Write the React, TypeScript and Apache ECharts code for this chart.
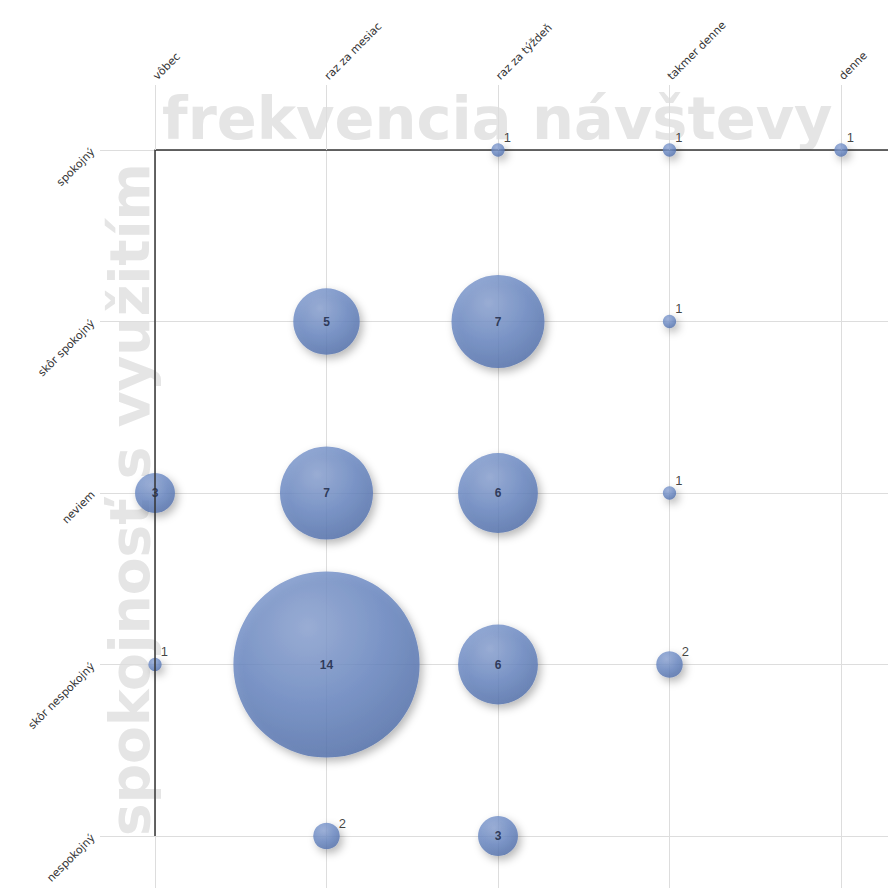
import React, { useEffect, useRef } from "react";
import * as echarts from "echarts";

const xCategories = ["vôbec", "raz za mesiac", "raz za týždeň", "takmer denne", "denne"];
const yCategories = ["spokojný", "skôr spokojný", "neviem", "skôr nespokojný", "nespokojný"];
// rows follow yCategories, columns follow xCategories
const rowSpokojny = [0, 0, 1, 1, 1];
const rowSkorSpokojny = [0, 5, 7, 1, 0];
const rowNeviem = [3, 7, 6, 1, 0];
const rowSkorNespokojny = [1, 14, 6, 2, 0];
const rowNespokojny = [0, 2, 3, 0, 0];
const counts = [rowSpokojny, rowSkorSpokojny, rowNeviem, rowSkorNespokojny, rowNespokojny];

const xTitle = "frekvencia návštevy";
const yTitle = "spokojnosť s využitím";

const FONT = "Liberation Sans, Arial, sans-serif";
const WIDE = "DejaVu Sans, Verdana, sans-serif";

export default function App() {
  const ref = useRef<HTMLDivElement>(null);
  useEffect(() => {
    if (!ref.current) return;
    const chart = echarts.init(ref.current, null, { renderer: "svg" });

    const data: any[] = [];
    counts.forEach((row, yi) => {
      row.forEach((v, xi) => {
        if (!v) return;
        const inside = v >= 3;
        data.push({
          value: [xi, yi, v],
          label: inside
            ? { position: "inside", color: "#16213c", fontSize: 12, fontWeight: "bold" }
            : { position: "right", distance: -1, offset: [0, -13], color: "#111", fontSize: 13 },
        });
      });
    });

    const bubbleGradient = new echarts.graphic.RadialGradient(0.4, 0.3, 0.8, [
      { offset: 0, color: "#8ca3d3" },
      { offset: 0.5, color: "#6887c2" },
      { offset: 0.88, color: "#5371ad" },
      { offset: 1, color: "#40588f" },
    ]);

    const step = 171.5;
    const xMax = (888 - 155) / step;
    const yMax = (888 - 150) / step;

    chart.setOption({
      animation: false,
      backgroundColor: "#ffffff",
      graphic: [
        {
          type: "text",
          z: -10,
          x: 162,
          y: 148,
          style: {
            text: xTitle,
            font: `bold 59px ${WIDE}`,
            fill: "#e5e5e5",
            align: "left",
            verticalAlign: "bottom",
          },
        },
        {
          type: "text",
          z: -10,
          x: 157,
          y: 836,
          rotation: Math.PI / 2,
          style: {
            text: yTitle,
            font: `bold 55px ${WIDE}`,
            fill: "#e5e5e5",
            align: "left",
            verticalAlign: "bottom",
          },
        },
      ],
      grid: { left: 155, top: 150, right: 0, bottom: 0, containLabel: false },
      xAxis: {
        type: "value",
        position: "top",
        min: 0,
        max: xMax,
        interval: 1,
        axisLine: { show: true, lineStyle: { color: "#333", width: 1.5 } },
        axisTick: { show: true, inside: false, length: 65, lineStyle: { color: "#dddddd" } },
        axisLabel: {
          rotate: 45,
          margin: 72,
          fontSize: 11,
          fontFamily: WIDE,
          color: "#333",
          showMaxLabel: false,
          formatter: (v: number) => (Number.isInteger(v) && xCategories[v] ? xCategories[v] : ""),
        },
        splitLine: { show: true, showMaxLine: false, lineStyle: { color: "#dddddd", width: 1 } },
      },
      yAxis: {
        type: "value",
        inverse: true,
        min: 0,
        max: yMax,
        interval: 1,
        axisLine: { show: false },
        axisTick: { show: true, inside: false, length: 55, lineStyle: { color: "#dddddd" } },
        axisLabel: {
          rotate: 45,
          margin: 62,
          fontSize: 11,
          fontFamily: WIDE,
          color: "#333",
          showMaxLabel: false,
          formatter: (v: number) => (Number.isInteger(v) && yCategories[v] ? yCategories[v] : ""),
        },
        splitLine: { show: true, showMaxLine: false, lineStyle: { color: "#dddddd", width: 1 } },
      },
      series: [
        {
          type: "line",
          data: [],
          z: 1,
          silent: true,
          markLine: {
            silent: true,
            symbol: "none",
            label: { show: false },
            lineStyle: { color: "#333", width: 1.5, type: "solid" },
            data: [[{ coord: [0, 0] }, { coord: [0, yCategories.length - 1] }]],
          },
        },
        {
          type: "scatter",
          z: 3,
          data,
          symbolSize: (val: number[]) => val[2] * 13.3,
          itemStyle: {
            color: bubbleGradient,
            shadowBlur: 8,
            shadowOffsetX: 3,
            shadowOffsetY: 4,
            shadowColor: "rgba(0,0,0,0.35)",
          },
          label: {
            show: true,
            fontFamily: FONT,
            formatter: (p: any) => String(p.value[2]),
          },
        },
      ],
    });
    return () => chart.dispose();
  }, []);
  return (
    <div
      ref={ref}
      style={{ position: "fixed", left: 0, top: 0, width: 888, height: 888, background: "#fff" }}
    />
  );
}
